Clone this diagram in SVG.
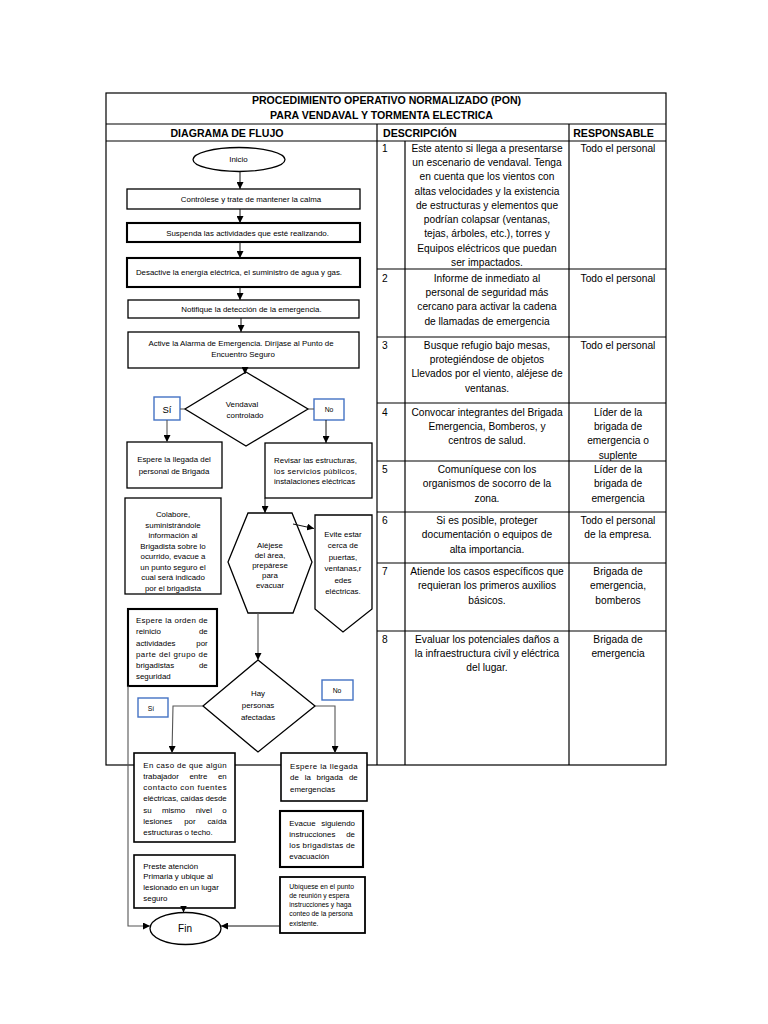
<svg xmlns="http://www.w3.org/2000/svg" width="768" height="1024" viewBox="0 0 768 1024">
<style>
text{font-family:"Liberation Sans",Arial,sans-serif;fill:#000}
.f{font-size:7.9px}
.s{font-size:6.8px}
.m{text-anchor:middle}
.e{text-anchor:end}
.tb{font-size:10.2px}
.hd{font-size:10.6px;font-weight:bold}
.grid{stroke:#000;stroke-width:1.2;fill:none}
.box{fill:#fff;stroke:#000;stroke-width:1.3}
.thk{stroke-width:2.1}
.blue{fill:#fff;stroke:#4472c4;stroke-width:1.4}
.c{stroke:#111;stroke-width:1;fill:none}
.g{stroke:#555;stroke-width:1.1;fill:none}
</style>
<defs>
<marker id="ah" viewBox="0 0 10 10" refX="10" refY="5" markerWidth="7" markerHeight="7" markerUnits="userSpaceOnUse" orient="auto"><path d="M0,0 L10,5 L0,10 z" fill="#000"/></marker>
</defs>
<rect width="768" height="1024" fill="#fff"/>
<g id="table">
<rect class="grid" x="106" y="93" width="560" height="672"/>
<line class="grid" x1="106" y1="124" x2="666" y2="124"/>
<line class="grid" x1="106" y1="141" x2="666" y2="141"/>
<line class="grid" x1="377" y1="124" x2="377" y2="765"/>
<line class="grid" x1="405" y1="141" x2="405" y2="765"/>
<line class="grid" x1="569" y1="124" x2="569" y2="765"/>
<line class="grid" x1="377" y1="269" x2="666" y2="269"/>
<line class="grid" x1="377" y1="337" x2="666" y2="337"/>
<line class="grid" x1="377" y1="403" x2="666" y2="403"/>
<line class="grid" x1="377" y1="461" x2="666" y2="461"/>
<line class="grid" x1="377" y1="512" x2="666" y2="512"/>
<line class="grid" x1="377" y1="563" x2="666" y2="563"/>
<line class="grid" x1="377" y1="631" x2="666" y2="631"/>
<text class="hd m" x="386.5" y="104">PROCEDIMIENTO OPERATIVO NORMALIZADO (PON)</text>
<text class="hd m" x="381.5" y="119">PARA VENDAVAL Y TORMENTA ELECTRICA</text>
<text class="hd m" x="227" y="136.5">DIAGRAMA DE FLUJO</text>
<text class="hd" x="383" y="136.5">DESCRIPCIÓN</text>
<text class="hd m" x="613.5" y="136.5">RESPONSABLE</text>
<g class="tb">
<text class="tb" x="382" y="151.6">1</text>
<text class="tb" x="382" y="281.6">2</text>
<text class="tb" x="382" y="348.6">3</text>
<text class="tb" x="382" y="415.6">4</text>
<text class="tb" x="382" y="473.1">5</text>
<text class="tb" x="382" y="524.1">6</text>
<text class="tb" x="382" y="575.1">7</text>
<text class="tb" x="382" y="642.6">8</text>
<text class="tb m" x="487" y="151.6"><tspan x="487">Este atento si llega a presentarse</tspan><tspan x="487" dy="14.3">un escenario de vendaval. Tenga</tspan><tspan x="487" dy="14.3">en cuenta que los vientos con</tspan><tspan x="487" dy="14.3">altas velocidades y la existencia</tspan><tspan x="487" dy="14.3">de estructuras y elementos que</tspan><tspan x="487" dy="14.3">podrían colapsar (ventanas,</tspan><tspan x="487" dy="14.3">tejas, árboles, etc.), torres y</tspan><tspan x="487" dy="14.3">Equipos eléctricos que puedan</tspan><tspan x="487" dy="14.3">ser impactados.</tspan></text>
<text class="tb m" x="487" y="281.6"><tspan x="487">Informe de inmediato al</tspan><tspan x="487" dy="14.3">personal de seguridad más</tspan><tspan x="487" dy="14.3">cercano para activar la cadena</tspan><tspan x="487" dy="14.3">de llamadas de emergencia</tspan></text>
<text class="tb m" x="487" y="348.6"><tspan x="487">Busque refugio bajo mesas,</tspan><tspan x="487" dy="14.3">protegiéndose de objetos</tspan><tspan x="487" dy="14.3">Llevados por el viento, aléjese de</tspan><tspan x="487" dy="14.3">ventanas.</tspan></text>
<text class="tb m" x="487" y="415.6"><tspan x="487">Convocar integrantes del Brigada</tspan><tspan x="487" dy="14.3">Emergencia, Bomberos, y</tspan><tspan x="487" dy="14.3">centros de salud.</tspan></text>
<text class="tb m" x="487" y="473.1"><tspan x="487">Comuníquese con los</tspan><tspan x="487" dy="14.3">organismos de socorro de la</tspan><tspan x="487" dy="14.3">zona.</tspan></text>
<text class="tb m" x="487" y="524.1"><tspan x="487">Si es posible, proteger</tspan><tspan x="487" dy="14.3">documentación o equipos de</tspan><tspan x="487" dy="14.3">alta importancia.</tspan></text>
<text class="tb m" x="487" y="575.1"><tspan x="487">Atiende los casos específicos que</tspan><tspan x="487" dy="14.3">requieran los primeros auxilios</tspan><tspan x="487" dy="14.3">básicos.</tspan></text>
<text class="tb m" x="487" y="642.6"><tspan x="487">Evaluar los potenciales daños a</tspan><tspan x="487" dy="14.3">la infraestructura civil y eléctrica</tspan><tspan x="487" dy="14.3">del lugar.</tspan></text>
<text class="tb m" x="618" y="151.6">Todo el personal</text>
<text class="tb m" x="618" y="281.6">Todo el personal</text>
<text class="tb m" x="618" y="348.6">Todo el personal</text>
<text class="tb m" x="618" y="415.6"><tspan x="618">Líder de la</tspan><tspan x="618" dy="14.3">brigada de</tspan><tspan x="618" dy="14.3">emergencia o</tspan><tspan x="618" dy="14.3">suplente</tspan></text>
<text class="tb m" x="618" y="473.1"><tspan x="618">Líder de la</tspan><tspan x="618" dy="14.3">brigada de</tspan><tspan x="618" dy="14.3">emergencia</tspan></text>
<text class="tb m" x="618" y="524.1"><tspan x="618">Todo el personal</tspan><tspan x="618" dy="14.3">de la empresa.</tspan></text>
<text class="tb m" x="618" y="575.1"><tspan x="618">Brigada de</tspan><tspan x="618" dy="14.3">emergencia,</tspan><tspan x="618" dy="14.3">bomberos</tspan></text>
<text class="tb m" x="618" y="642.6"><tspan x="618">Brigada de</tspan><tspan x="618" dy="14.3">emergencia</tspan></text>
</g>
</g>
<g id="inicio">
<ellipse class="box" cx="239" cy="159.5" rx="46" ry="12"/>
<text class="f m" x="238.5" y="162.3">Inicio</text>
</g>
<g id="n1">
<rect class="box" x="127" y="189" width="233" height="20"/>
<text class="f m" x="251" y="201.8">Contrólese y trate de mantener la calma</text>
</g>
<g id="n2">
<rect class="box thk" x="127" y="223" width="233" height="19"/>
<text class="f m" x="247.5" y="235.5">Suspenda las actividades que esté realizando.</text>
</g>
<g id="n3">
<rect class="box thk" x="127" y="258" width="233" height="29"/>
<text class="f m" x="239" y="274.5">Desactive la energía eléctrica, el suministro de agua y gas.</text>
</g>
<g id="n4">
<rect class="box" x="128" y="300" width="231" height="18"/>
<text class="f m" x="251.5" y="312">Notifique la detección de la emergencia.</text>
</g>
<g id="n5">
<rect class="box" x="128" y="332" width="231" height="36"/>
<text class="f m" x="241" y="346">Active la Alarma de Emergencia. Diríjase al Punto de</text>
<text class="f m" x="243" y="357">Encuentro Seguro</text>
</g>
<g id="d1">
<polygon class="box" points="246,372 308,409 246,446 185,409"/>
<text class="f m" x="242" y="406.5">Vendaval</text>
<text class="f m" x="245" y="417.5">controlado</text>
</g>
<g id="si1">
<rect class="blue" x="154" y="397" width="26" height="23"/>
<text class="m" style="font-size:9.5px" x="167" y="412.5">Sí</text>
</g>
<g id="no1">
<rect class="blue" x="314" y="399" width="30" height="21"/>
<text class="s m" x="329" y="411.5">No</text>
</g>
<g id="n6">
<rect class="box" x="127" y="442" width="95" height="46"/>
<text class="f m" x="174" y="462">Espere la llegada del</text>
<text class="f m" x="174" y="474">personal de Brigada</text>
</g>
<g id="n7">
<rect class="box" x="265" y="443" width="107" height="55"/>
<text class="f" x="274" y="463" textLength="83" lengthAdjust="spacing">Revisar las estructuras,</text>
<text class="f" x="274" y="473.5" textLength="83" lengthAdjust="spacing">los servicios públicos,</text>
<text class="f" x="274" y="484">instalaciones eléctricas</text>
</g>
<g id="n8">
<rect class="box" x="125" y="498" width="96" height="96"/>
<text class="f m" x="173" y="517"><tspan x="173">Colabore,</tspan><tspan x="173" dy="10.5">suministrándole</tspan><tspan x="173" dy="10.5">información al</tspan><tspan x="173" dy="10.5">Brigadista sobre lo</tspan><tspan x="173" dy="10.5">ocurrido, evacue a</tspan><tspan x="173" dy="10.5">un punto seguro el</tspan><tspan x="173" dy="10.5">cual será indicado</tspan><tspan x="173" dy="10.5">por el brigadista</tspan></text>
</g>
<g id="n9">
<polygon class="box" points="248,513 292,513 312,562 293,613 248,613 228,562"/>
<text class="f m" x="270" y="548"><tspan x="270">Aléjese</tspan><tspan x="270" dy="10">del área,</tspan><tspan x="270" dy="10">prepárese</tspan><tspan x="270" dy="10">para</tspan><tspan x="270" dy="10">evacuar</tspan></text>
</g>
<g id="n10">
<polygon class="box" points="315,515 372,515 372,609 343,632 315,609"/>
<text class="f m" x="343" y="537"><tspan x="343">Evite estar</tspan><tspan x="343" dy="11.4">cerca de</tspan><tspan x="343" dy="11.4">puertas,</tspan><tspan x="343" dy="11.4">ventanas,r</tspan><tspan x="343" dy="11.4">edes</tspan><tspan x="343" dy="11.4">eléctricas.</tspan></text>
</g>
<g id="n11">
<rect class="box thk" x="128" y="609" width="89" height="77"/>
<text class="f" x="136" y="622.7" textLength="71.7" lengthAdjust="spacing">Espere la orden de</text>
<text class="f" x="136" y="634.2">reinicio</text><text class="f e" x="207.7" y="634.2">de</text>
<text class="f" x="136" y="645.5">actividades</text><text class="f e" x="207.7" y="645.5">por</text>
<text class="f" x="136" y="656.5" textLength="71.7" lengthAdjust="spacing">parte del grupo de</text>
<text class="f" x="136" y="667.7">brigadistas</text><text class="f e" x="207.7" y="667.7">de</text>
<text class="f" x="136" y="678.8">seguridad</text>
</g>
<g id="d2">
<polygon class="box" points="258,660 315,706 258,752 203,706"/>
<text class="f m" x="258" y="696">Hay</text>
<text class="f m" x="258" y="708">personas</text>
<text class="f m" x="258" y="720">afectadas</text>
</g>
<g id="si2">
<rect class="blue" x="138" y="698" width="30" height="19"/>
<text class="s m" x="151" y="710.5">Sí</text>
</g>
<g id="no2">
<rect class="blue" x="322" y="680" width="31" height="20"/>
<text class="s m" x="337" y="692.5">No</text>
</g>
<g id="n12">
<rect class="box" style="stroke-width:1.6" x="134" y="753" width="101" height="89"/>
<text class="f" x="143.3" y="767.5" textLength="83.4" lengthAdjust="spacing">En caso de que algún</text>
<text class="f" x="143.3" y="778.5">trabajador</text><text class="f" x="189.4" y="778.5">entre</text><text class="f e" x="226.7" y="778.5">en</text>
<text class="f" x="143.3" y="790" textLength="83.4" lengthAdjust="spacing">contacto con fuentes</text>
<text class="f" x="143.3" y="801" textLength="83.4" lengthAdjust="spacing">eléctricas, caídas desde</text>
<text class="f" x="143.3" y="812.5">su</text><text class="f" x="162" y="812.5">mismo</text><text class="f" x="195.7" y="812.5">nivel</text><text class="f e" x="226.7" y="812.5">o</text>
<text class="f" x="143.3" y="823.5">lesiones</text><text class="f" x="184.2" y="823.5">por</text><text class="f e" x="226.7" y="823.5">caída</text>
<text class="f" x="143.3" y="834.5">estructuras o techo.</text>
</g>
<g id="n13">
<rect class="box" style="stroke-width:1.6" x="281" y="753" width="86" height="48"/>
<text class="f" x="290" y="768.5" textLength="67.7" lengthAdjust="spacing">Espere la llegada</text>
<text class="f" x="290" y="780">de</text><text class="f" x="304.7" y="780">la</text><text class="f" x="316.6" y="780">brigada</text><text class="f e" x="357.7" y="780">de</text>
<text class="f" x="290" y="791.5">emergencias</text>
</g>
<g id="n14">
<rect class="box thk" x="280" y="811" width="83" height="56"/>
<text class="f" x="289.3" y="825.5">Evacue</text><text class="f e" x="355" y="825.5">siguiendo</text>
<text class="f" x="289.3" y="837">instrucciones</text><text class="f e" x="355" y="837">de</text>
<text class="f" x="289.3" y="848" textLength="65.7" lengthAdjust="spacing">los brigadistas de</text>
<text class="f" x="289.3" y="859">evacuación</text>
</g>
<g id="n15">
<rect class="box" style="stroke-width:1.6" x="134" y="855" width="101" height="53"/>
<text class="f" x="143.3" y="868.5"><tspan x="143.3">Preste atención</tspan><tspan x="143.3" dy="10.9">Primaria y ubique al</tspan><tspan x="143.3" dy="10.9">lesionado en un lugar</tspan><tspan x="143.3" dy="10.9">seguro</tspan></text>
</g>
<g id="n16">
<rect class="box" style="stroke-width:1.8" x="280" y="877" width="85" height="56"/>
<text class="s" x="289.3" y="888.5"><tspan x="289.3">Ubíquese en el punto</tspan><tspan x="289.3" dy="9.3">de reunión y espera</tspan><tspan x="289.3" dy="9.3">instrucciones y haga</tspan><tspan x="289.3" dy="9.3">conteo de la persona</tspan><tspan x="289.3" dy="9.3">existente.</tspan></text>
</g>
<g id="fin">
<ellipse class="box" cx="185.5" cy="928.5" rx="35.5" ry="16"/>
<text class="m" style="font-size:10px" x="185" y="932">Fin</text>
</g>
<g id="connectors">
<line class="c" x1="240" y1="171.5" x2="240" y2="189" marker-end="url(#ah)"/>
<line class="c" x1="240" y1="209" x2="240" y2="223" marker-end="url(#ah)"/>
<line class="c" x1="240" y1="242" x2="240" y2="258" marker-end="url(#ah)"/>
<line class="c" x1="240" y1="287" x2="240" y2="300" marker-end="url(#ah)"/>
<line class="c" x1="241" y1="318" x2="241" y2="332" marker-end="url(#ah)"/>
<line class="c" x1="245" y1="368" x2="245" y2="374" marker-end="url(#ah)"/>
<line class="g" x1="185" y1="409" x2="180" y2="409"/>
<line class="g" x1="167" y1="420" x2="167" y2="442" marker-end="url(#ah)"/>
<line class="g" x1="308" y1="409" x2="314" y2="409"/>
<line class="c" x1="326" y1="420" x2="326" y2="443" marker-end="url(#ah)"/>
<line class="c" x1="265" y1="498" x2="265" y2="513" marker-end="url(#ah)"/>
<line class="c" x1="293" y1="524" x2="314" y2="528.5" marker-end="url(#ah)"/>
<line class="g" x1="258" y1="613" x2="258" y2="660" marker-end="url(#ah)"/>
<polyline class="g" points="203,706 173,706 172,753" marker-end="url(#ah)"/>
<polyline class="g" points="315,706 335,706 335,753" marker-end="url(#ah)"/>
<polyline class="g" points="128,686 128,926 150,926" marker-end="url(#ah)"/>
<line class="c" x1="183.5" y1="908" x2="183.5" y2="912.5" marker-end="url(#ah)"/>
<line class="c" x1="280" y1="926" x2="221" y2="926" marker-end="url(#ah)"/>
</g>
</svg>
